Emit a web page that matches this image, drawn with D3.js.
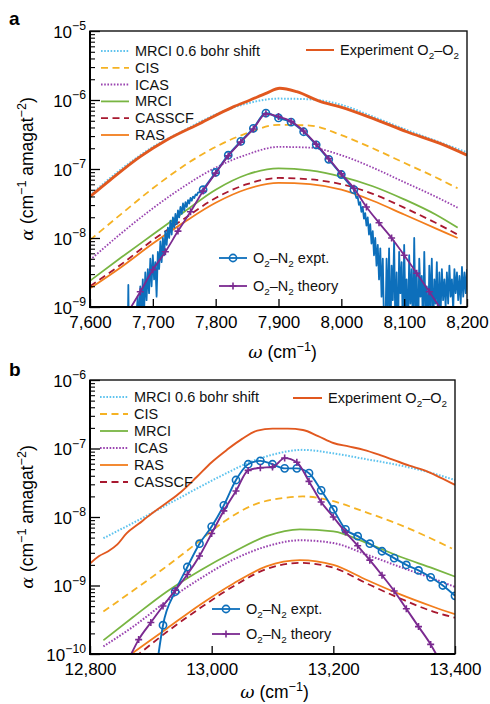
<!DOCTYPE html>
<html>
<head>
<meta charset="utf-8">
<script src="https://cdn.jsdelivr.net/npm/d3@7"></script>
<style>
  body { margin: 0; background: #fff; }
  svg { font-family: "Liberation Sans", Arial, Helvetica, sans-serif; }
</style>
</head>
<body>
<svg id="chart" width="490" height="704"></svg>
<script>
// ---------- panel a data (values are log10 of alpha) ----------
var aTheoryX   = [7600, 7650, 7700, 7750, 7800, 7850, 7900, 7950, 8000, 8050, 8100, 8150, 8185];
var aCIS       = [-8.03, -7.65, -7.28, -6.95, -6.68, -6.48, -6.36, -6.37, -6.51, -6.70, -6.91, -7.12, -7.28];
var aICAS      = [-8.32, -7.93, -7.57, -7.25, -6.98, -6.79, -6.68, -6.69, -6.80, -6.98, -7.19, -7.40, -7.56];
var aMRCI      = [-8.62, -8.28, -7.95, -7.62, -7.30, -7.08, -6.99, -7.02, -7.11, -7.25, -7.44, -7.66, -7.85];
var aCASSCF    = [-8.70, -8.38, -8.03, -7.72, -7.42, -7.22, -7.13, -7.15, -7.22, -7.36, -7.56, -7.78, -7.95];
var aRAS       = [-8.73, -8.42, -8.08, -7.77, -7.49, -7.29, -7.20, -7.22, -7.30, -7.46, -7.66, -7.86, -8.00];
var aShiftX    = [7600, 7650, 7700, 7750, 7800, 7850, 7900, 7950, 8000, 8050, 8100, 8150, 8200];
var aShift     = [-7.38, -7.00, -6.68, -6.44, -6.21, -6.05, -5.98, -5.99, -6.07, -6.24, -6.42, -6.59, -6.76];
var aExpO2X    = [7600, 7632, 7680, 7722, 7775, 7828, 7855, 7881, 7902, 7929, 7966, 7998, 8051, 8104, 8157, 8200];
var aExpO2     = [-7.40, -7.16, -6.82, -6.58, -6.34, -6.10, -6.00, -5.90, -5.83, -5.88, -6.02, -6.10, -6.27, -6.46, -6.63, -6.80];

// O2-N2 experiment: noisy low wing, smooth core (markers), noisy high wing
var aN2ExpLeftX  = [7660, 7661, 7662, 7672, 7674, 7676, 7678, 7680, 7682, 7684, 7686, 7688, 7690, 7692, 7694, 7696, 7698,
                    7700, 7702, 7704, 7706, 7708, 7710, 7712, 7714, 7716, 7718, 7720, 7722, 7724, 7726, 7728, 7730,
                    7732, 7734, 7736, 7738, 7740, 7742, 7744, 7746, 7748, 7750, 7752, 7754, 7756, 7758, 7760, 7762,
                    7764, 7766, 7768, 7770, 7772, 7774, 7776, 7778, 7780];
var aN2ExpLeft   = [-9.5, -8.68, -9.5, -9.5, -9.1, -8.85, -9.3, -8.7, -9.2, -8.6, -9.1, -8.5, -8.9, -8.45, -8.8, -8.3, -8.7,
                    -8.25, -8.6, -8.35, -8.85, -8.2, -8.45, -8.05, -8.35, -8.0, -8.25, -7.9, -8.1, -7.85, -8.0, -7.75, -7.95,
                    -7.7, -7.85, -7.65, -7.8, -7.6, -7.7, -7.55, -7.65, -7.5, -7.6, -7.48, -7.55, -7.45, -7.5, -7.42, -7.46,
                    -7.4, -7.42, -7.37, -7.38, -7.34, -7.34, -7.32, -7.31, -7.30];
var aN2ExpX      = [7780, 7800, 7820, 7840, 7860, 7880, 7900, 7920, 7940, 7960, 7980, 8000, 8020];
var aN2Exp       = [-7.30, -7.05, -6.80, -6.60, -6.41, -6.19, -6.26, -6.32, -6.46, -6.65, -6.86, -7.08, -7.30];
var aN2ExpRightX = [8020, 8022, 8024, 8026, 8028, 8030, 8032, 8034, 8036, 8038, 8040, 8042, 8044, 8046, 8048, 8050,
                    8052, 8054, 8056, 8058, 8060, 8062, 8064, 8066, 8068, 8070, 8072, 8074, 8076, 8078, 8080, 8082,
                    8084, 8086, 8088, 8090, 8092, 8094, 8096, 8098, 8100, 8102, 8104, 8106, 8108, 8110, 8112, 8114,
                    8116, 8118, 8120, 8122, 8124, 8126, 8128, 8130, 8132, 8134, 8136, 8138, 8140, 8142, 8144, 8146,
                    8148, 8150, 8152, 8154, 8156, 8158, 8160, 8162, 8164, 8166, 8168, 8170, 8172, 8174, 8176, 8178,
                    8180, 8182, 8184, 8186, 8188, 8190, 8192, 8194, 8196, 8198, 8200];
var aN2ExpRight  = [-7.30, -7.36, -7.42, -7.40, -7.52, -7.48, -7.62, -7.55, -7.72, -7.64, -7.82, -7.70, -7.95, -7.80, -8.08, -7.90,
                    -8.25, -8.0, -8.4, -8.1, -8.6, -8.15, -8.85, -8.3, -9.3, -9.4, -8.3, -9.1, -8.15, -9.5, -8.4, -8.9,
                    -8.05, -9.3, -8.5, -9.6, -8.2, -8.8, -8.35, -9.4, -8.1, -9.0, -8.6, -9.5, -8.25, -8.95, -8.45, -9.4,
                    -8.0, -9.2, -8.5, -9.6, -8.3, -8.85, -8.55, -9.3, -8.2, -9.1, -8.7, -9.5, -8.4, -9.0, -8.3, -9.4,
                    -8.6, -8.95, -8.35, -9.3, -8.5, -9.1, -8.45, -8.9, -8.6, -9.0, -8.5, -8.95, -8.4, -8.85, -8.6, -9.05,
                    -8.45, -8.8, -8.5, -8.9, -8.55, -8.95, -8.42, -8.85, -8.5, -8.8, -8.45];
var aN2TheoryX   = [7660, 7680, 7700, 7720, 7740, 7760, 7780, 7800, 7820, 7840, 7860, 7880, 7900, 7920, 7940, 7960,
                    7980, 8000, 8020, 8040, 8060, 8080, 8100, 8120, 8140, 8160];
var aN2Theory    = [-9.08, -8.78, -8.46, -8.20, -7.90, -7.62, -7.32, -7.06, -6.81, -6.61, -6.42, -6.20, -6.24, -6.31, -6.45, -6.64,
                    -6.85, -7.07, -7.28, -7.55, -7.78, -8.00, -8.25, -8.51, -8.78, -9.05];

// ---------- panel b data ----------
var bExpO2X   = [12800, 12815, 12830, 12845, 12860, 12880, 12900, 12925, 12950, 12975, 13000, 13025, 13050, 13075, 13100,
                 13125, 13150, 13175, 13200, 13225, 13250, 13275, 13300, 13325, 13350, 13375, 13400];
var bExpO2    = [-8.68, -8.57, -8.50, -8.40, -8.24, -8.10, -7.96, -7.80, -7.63, -7.42, -7.20, -7.02, -6.86, -6.74, -6.71,
                 -6.71, -6.73, -6.82, -6.92, -6.97, -7.02, -7.09, -7.17, -7.25, -7.32, -7.42, -7.53];
var bShiftX   = [12822, 12900, 12960, 13020, 13060, 13100, 13150, 13200, 13250, 13300, 13350, 13400];
var bShift    = [-8.31, -7.95, -7.66, -7.38, -7.21, -7.09, -7.02, -7.07, -7.15, -7.23, -7.33, -7.46];
var bCISX     = [12822, 12870, 12920, 12970, 13020, 13070, 13120, 13150, 13200, 13250, 13300, 13350, 13395];
var bCIS      = [-9.38, -9.08, -8.76, -8.42, -8.07, -7.82, -7.72, -7.70, -7.77, -7.92, -8.08, -8.27, -8.46];
var bTheoryX  = [12822, 12871, 12926, 12981, 13036, 13090, 13145, 13200, 13255, 13310, 13364, 13400];
var bMRCI     = [-9.80, -9.46, -9.09, -8.78, -8.51, -8.28, -8.18, -8.21, -8.38, -8.58, -8.75, -8.87];
var bICAS     = [-9.89, -9.60, -9.23, -8.90, -8.62, -8.43, -8.34, -8.38, -8.55, -8.73, -8.90, -9.02];
var bLowX     = [12860, 12926, 12981, 13036, 13090, 13145, 13200, 13255, 13310, 13364, 13400];
var bRAS      = [-10.05, -9.63, -9.28, -8.97, -8.72, -8.63, -8.70, -8.92, -9.13, -9.31, -9.42];
var bCASSCF   = [-10.15, -9.68, -9.33, -9.01, -8.76, -8.67, -8.74, -8.97, -9.19, -9.38, -9.47];
var bN2ExpX   = [12911, 12920, 12940, 12960, 12980, 13000, 13020, 13040, 13060, 13080, 13100, 13120, 13140, 13160,
                 13180, 13200, 13220, 13240, 13260, 13280, 13300, 13320, 13340, 13360, 13380, 13400];
var bN2Exp    = [-10.1, -9.58, -9.09, -8.73, -8.39, -8.14, -7.83, -7.46, -7.23, -7.18, -7.23, -7.29, -7.29, -7.36,
                 -7.61, -7.89, -8.18, -8.28, -8.39, -8.50, -8.60, -8.70, -8.78, -8.88, -9.00, -9.15];
var bN2TheoryX = [12865, 12880, 12900, 12920, 12940, 12960, 12980, 13000, 13020, 13040, 13060, 13080, 13100, 13120,
                  13140, 13160, 13180, 13200, 13220, 13240, 13260, 13280, 13300, 13320, 13340, 13360, 13372];
var bN2Theory  = [-10.05, -9.79, -9.54, -9.30, -9.07, -8.84, -8.57, -8.24, -7.91, -7.62, -7.32, -7.28, -7.27, -7.14,
                  -7.20, -7.48, -7.78, -8.00, -8.22, -8.42, -8.63, -8.85, -9.08, -9.34, -9.60, -9.86, -10.05];

var aXTicks = [7600, 7700, 7800, 7900, 8000, 8100, 8200];
var bXTicks = [12800, 13000, 13200, 13400];

// colours
var cExp = '#e1581f', cShift = '#5ec3ee', cCIS = '#f5b223', cICAS = '#9a44b0', cMRCI = '#78b542',
    cCASSCF = '#a8182f', cRAS = '#f27d1c', cN2Exp = '#0d6fbb', cN2Th = '#7b2a90';

var svg = d3.select('#chart');
var FONT_TICK = 17, FONT_LEG = 14.5;

// writes mixed normal / sup / sub runs into a text element
function richText(text, parts, size) {
  var shift = 0;
  parts.forEach(function (p) {
    var t = text.append('tspan').text(p[0]);
    var target = 0;
    if (p[1] === 'sup') { target = -size * 0.42; t.attr('font-size', size * 0.72); }
    else if (p[1] === 'sub') { target = size * 0.28; t.attr('font-size', size * 0.68); }
    else if (p[1] === 'it') { t.attr('font-style', 'italic').attr('font-family', '"DejaVu Serif", "Liberation Serif", serif'); }
    if (target - shift !== 0) t.attr('dy', target - shift);
    shift = target;
  });
}

function makePanel(o) {
  var x = d3.scaleLinear().domain(o.xDomain).range([o.left, o.right]);
  var y = d3.scaleLog().domain(o.yDomain).range([o.bottom, o.top]);
  var g = svg.append('g');

  svg.append('clipPath').attr('id', 'clip-' + o.name).append('rect')
    .attr('x', o.left).attr('y', o.top)
    .attr('width', o.right - o.left).attr('height', o.bottom - o.top);

  var plot = g.append('g').attr('clip-path', 'url(#clip-' + o.name + ')');

  // minor y ticks
  var lo = Math.round(Math.log10(o.yDomain[0])), hi = Math.round(Math.log10(o.yDomain[1]));
  var minor = [], major = [];
  for (var e = lo; e <= hi; e++) {
    major.push(Math.pow(10, e));
    if (e < hi) for (var m = 2; m <= 9; m++) minor.push(m * Math.pow(10, e));
  }
  g.append('g').attr('transform', 'translate(' + o.left + ',0)')
    .call(d3.axisLeft(y).tickValues(minor).tickSizeInner(-5).tickSizeOuter(0).tickFormat(''))
    .call(function (s) { s.select('.domain').remove(); s.selectAll('line').attr('stroke-width', 1.1); });

  var yAx = g.append('g').attr('transform', 'translate(' + o.left + ',0)')
    .call(d3.axisLeft(y).tickValues(major).tickSizeInner(-10).tickSizeOuter(0).tickFormat(''));
  yAx.select('.domain').remove();
  yAx.selectAll('line').attr('stroke-width', 1.3);
  yAx.selectAll('.tick').each(function (d) {
    var t = d3.select(this).append('text')
      .attr('x', -4).attr('y', 6).attr('fill', '#000')
      .attr('text-anchor', 'end').attr('font-size', FONT_TICK);
    richText(t, [['10', ''], ['\u2212' + Math.abs(Math.round(Math.log10(d))), 'sup']], FONT_TICK);
  });

  var xAx = g.append('g').attr('transform', 'translate(0,' + o.bottom + ')')
    .call(d3.axisBottom(x).tickValues(o.xTicks).tickSizeInner(-8).tickSizeOuter(0)
      .tickPadding(9).tickFormat(d3.format(',')));
  xAx.select('.domain').remove();
  xAx.selectAll('line').attr('stroke-width', 1.3);
  xAx.selectAll('text').attr('font-size', FONT_TICK).attr('font-family', null).attr('fill', '#000');

  // frame
  g.append('rect').attr('x', o.left).attr('y', o.top)
    .attr('width', o.right - o.left).attr('height', o.bottom - o.top)
    .attr('fill', 'none').attr('stroke', '#111').attr('stroke-width', 1.4);
  g.append('path')
    .attr('d', 'M' + o.left + ',' + o.top + 'V' + o.bottom + 'H' + o.right)
    .attr('fill', 'none').attr('stroke', '#000').attr('stroke-width', 2);

  // axis titles
  var yl = g.append('text')
    .attr('transform', 'translate(' + o.yLabelX + ',' + ((o.top + o.bottom) / 2) + ') rotate(-90)')
    .attr('text-anchor', 'middle').attr('font-size', 17.5);
  richText(yl, [['\u03b1', 'it'], [' (cm', ''], ['\u22121', 'sup'], [' amagat', ''], ['\u22122', 'sup'], [')', '']], 17.5);

  var xl = g.append('text')
    .attr('x', (o.left + o.right) / 2 + o.xLabelDx).attr('y', o.bottom + o.xLabelDy)
    .attr('text-anchor', 'middle').attr('font-size', 17.5);
  richText(xl, [['\u03c9', 'it'], [' (cm', ''], ['\u22121', 'sup'], [')', '']], 17.5);

  g.append('text').attr('x', 9).attr('y', o.letterY)
    .attr('font-size', 19).attr('font-weight', 'bold').text(o.name);

  return { x: x, y: y, g: g, plot: plot };
}

function drawLine(p, xs, logs, style) {
  var data = d3.zip(xs, logs);
  var line = d3.line()
    .x(function (d) { return p.x(d[0]); })
    .y(function (d) { return p.y(Math.pow(10, d[1])); })
    .curve(style.curve || d3.curveMonotoneX);
  p.plot.append('path').datum(data)
    .attr('d', line)
    .attr('fill', 'none')
    .attr('stroke', style.color)
    .attr('stroke-width', style.width || 1.8)
    .attr('stroke-dasharray', style.dash || null)
    .attr('stroke-linejoin', 'round');
}

function drawMarkers(p, xs, logs, kind, color) {
  var data = d3.zip(xs, logs);
  if (kind === 'circle') {
    p.plot.selectAll(null).data(data).enter().append('circle')
      .attr('cx', function (d) { return p.x(d[0]); })
      .attr('cy', function (d) { return p.y(Math.pow(10, d[1])); })
      .attr('r', 3.6).attr('fill', 'none').attr('stroke', color).attr('stroke-width', 1.6);
  } else {
    p.plot.selectAll(null).data(data).enter().append('path')
      .attr('d', function (d) {
        var cx = p.x(d[0]), cy = p.y(Math.pow(10, d[1]));
        return 'M' + (cx - 3.5) + ',' + cy + 'H' + (cx + 3.5) + 'M' + cx + ',' + (cy - 3.5) + 'V' + (cy + 3.5);
      })
      .attr('stroke', color).attr('stroke-width', 1.6);
  }
}

var DASH = '7,4.5', DOT = '1.6,1.6';

function legendEntry(g, x0, x1, yy, style, parts, marker) {
  g.append('line').attr('x1', x0).attr('x2', x1).attr('y1', yy).attr('y2', yy)
    .attr('stroke', style.color).attr('stroke-width', style.width || 1.8)
    .attr('stroke-dasharray', style.dash || null);
  var mx = (x0 + x1) / 2;
  if (marker === 'circle') {
    g.append('circle').attr('cx', mx).attr('cy', yy).attr('r', 3.6)
      .attr('fill', 'none').attr('stroke', style.color).attr('stroke-width', 1.6);
  } else if (marker === 'plus') {
    g.append('path').attr('d', 'M' + (mx - 3.5) + ',' + yy + 'H' + (mx + 3.5) + 'M' + mx + ',' + (yy - 3.5) + 'V' + (yy + 3.5))
      .attr('stroke', style.color).attr('stroke-width', 1.6);
  }
  var t = g.append('text').attr('x', x1 + 6).attr('y', yy + 5).attr('font-size', FONT_LEG).attr('fill', '#111');
  richText(t, parts, FONT_LEG);
}

// ================= panel a =================
var pa = makePanel({
  name: 'a', xDomain: [7600, 8200], yDomain: [1e-9, 1e-5],
  left: 90, right: 467, top: 31, bottom: 307, xTicks: aXTicks, yLabelX: 33, letterY: 25,
  xLabelDx: 4, xLabelDy: 51
});

drawLine(pa, aShiftX, aShift, { color: cShift, dash: DOT, width: 2 });
drawLine(pa, aExpO2X, aExpO2, { color: cExp, width: 2.9 });
drawLine(pa, aTheoryX, aCIS, { color: cCIS, dash: DASH });
drawLine(pa, aTheoryX, aICAS, { color: cICAS, dash: DOT });
drawLine(pa, aTheoryX, aMRCI, { color: cMRCI });
drawLine(pa, aTheoryX, aCASSCF, { color: cCASSCF, dash: DASH });
drawLine(pa, aTheoryX, aRAS, { color: cRAS });
drawLine(pa, aN2ExpLeftX, aN2ExpLeft, { color: cN2Exp, width: 1.8, curve: d3.curveLinear });
drawLine(pa, aN2ExpRightX, aN2ExpRight, { color: cN2Exp, width: 1.8, curve: d3.curveLinear });
drawLine(pa, aN2ExpX, aN2Exp, { color: cN2Exp, width: 2 });
drawMarkers(pa, aN2ExpX, aN2Exp, 'circle', cN2Exp);
drawLine(pa, aN2TheoryX, aN2Theory, { color: cN2Th, width: 1.8 });
drawMarkers(pa, aN2TheoryX.slice(1, -1), aN2Theory.slice(1, -1), 'plus', cN2Th);

var la = pa.g.append('g');
[
  [{ color: cShift, dash: DOT, width: 2 }, [['MRCI 0.6 bohr shift', '']]],
  [{ color: cCIS, dash: DASH }, [['CIS', '']]],
  [{ color: cICAS, dash: DOT, width: 2 }, [['ICAS', '']]],
  [{ color: cMRCI }, [['MRCI', '']]],
  [{ color: cCASSCF, dash: DASH }, [['CASSCF', '']]],
  [{ color: cRAS }, [['RAS', '']]]
].forEach(function (e, i) { legendEntry(la, 101, 129, 51 + i * 16.8, e[0], e[1]); });
legendEntry(la, 306, 334, 50, { color: cExp, width: 2 }, [['Experiment O', ''], ['2', 'sub'], ['\u2013O', ''], ['2', 'sub']]);
legendEntry(la, 219, 247, 258, { color: cN2Exp }, [['O', ''], ['2', 'sub'], ['\u2013N', ''], ['2', 'sub'], [' expt.', '']], 'circle');
legendEntry(la, 219, 247, 286, { color: cN2Th }, [['O', ''], ['2', 'sub'], ['\u2013N', ''], ['2', 'sub'], [' theory', '']], 'plus');

// ================= panel b =================
var pb = makePanel({
  name: 'b', xDomain: [12800, 13400], yDomain: [1e-10, 1e-6],
  left: 90, right: 455, top: 380, bottom: 654, xTicks: bXTicks, yLabelX: 33, letterY: 376,
  xLabelDx: 2, xLabelDy: 44
});

drawLine(pb, bShiftX, bShift, { color: cShift, dash: DOT, width: 2 });
drawLine(pb, bExpO2X, bExpO2, { color: cExp, width: 1.9 });
drawLine(pb, bCISX, bCIS, { color: cCIS, dash: DASH });
drawLine(pb, bTheoryX, bMRCI, { color: cMRCI });
drawLine(pb, bTheoryX, bICAS, { color: cICAS, dash: DOT, width: 2 });
drawLine(pb, bLowX, bCASSCF, { color: cCASSCF, dash: DASH });
drawLine(pb, bLowX, bRAS, { color: cRAS });
drawLine(pb, bN2ExpX, bN2Exp, { color: cN2Exp, width: 1.9 });
drawMarkers(pb, bN2ExpX.slice(1), bN2Exp.slice(1), 'circle', cN2Exp);
drawLine(pb, bN2TheoryX, bN2Theory, { color: cN2Th, width: 1.9 });
drawMarkers(pb, bN2TheoryX.slice(1, -1), bN2Theory.slice(1, -1), 'plus', cN2Th);

var lb = pb.g.append('g');
[
  [{ color: cShift, dash: DOT, width: 2 }, [['MRCI 0.6 bohr shift', '']]],
  [{ color: cCIS, dash: DASH }, [['CIS', '']]],
  [{ color: cMRCI }, [['MRCI', '']]],
  [{ color: cICAS, dash: DOT, width: 2 }, [['ICAS', '']]],
  [{ color: cRAS }, [['RAS', '']]],
  [{ color: cCASSCF, dash: DASH }, [['CASSCF', '']]]
].forEach(function (e, i) { legendEntry(lb, 100, 128, 397 + i * 17, e[0], e[1]); });
legendEntry(lb, 293, 322, 398, { color: cExp, width: 2 }, [['Experiment O', ''], ['2', 'sub'], ['\u2013O', ''], ['2', 'sub']]);
legendEntry(lb, 212, 240, 609, { color: cN2Exp }, [['O', ''], ['2', 'sub'], ['\u2013N', ''], ['2', 'sub'], [' expt.', '']], 'circle');
legendEntry(lb, 212, 240, 634, { color: cN2Th }, [['O', ''], ['2', 'sub'], ['\u2013N', ''], ['2', 'sub'], [' theory', '']], 'plus');
</script>
</body>
</html>
